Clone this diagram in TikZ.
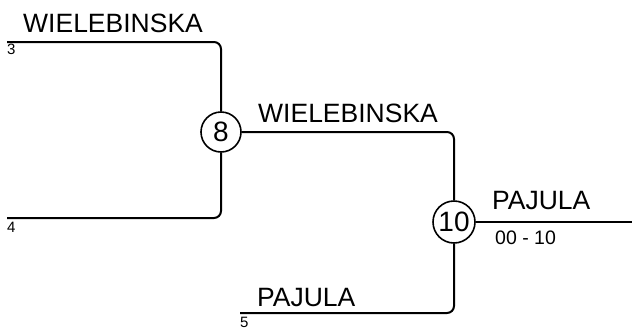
\documentclass[tikz,border=0pt]{standalone}
\usepackage{fontspec}
\setmainfont{Liberation Sans}
\usepackage{tikz}

\begin{document}
\begin{tikzpicture}[
  x=1pt, y=-1pt,
  line/.style={line width=2pt,rounded corners=7pt},
  game/.style={draw,circle,line width=1.6pt,inner sep=0pt,minimum size=40pt,
    font=\fontsize{28}{30}\selectfont},
  team/.style={inner sep=0pt,anchor=base west,font=\fontsize{26.5}{28}\selectfont},
  seed/.style={inner sep=0pt,anchor=north west,font=\fontsize{15}{16}\selectfont},
  score/.style={inner sep=0pt,anchor=north west,font=\fontsize{19.5}{21}\selectfont}]
  \useasboundingbox (0,0) rectangle (632,327);

  % Position the games and the free line ends
  \node[game] (m8) at (221,132) {8};
  \node[game,minimum size=42pt] (m10) at (454,222) {10};
  \coordinate (s3) at (7,42);
  \coordinate (s4) at (7,218);
  \coordinate (s5) at (240,313);
  \coordinate (win) at (633,222);

  % Names, seeds and the score
  \node[team] (t3) at (23,32) {WIELEBINSKA};
  \node[team] (t8) at (258,122) {WIELEBINSKA};
  \node[team] (t5) at (257,306) {PAJULA};
  \node[team] (t10) at (492,209) {PAJULA};
  \node[seed] (n3) at (7,44) {3};
  \node[seed] (n4) at (7,222) {4};
  \node[seed] (n5) at (240,317) {5};
  \node[score] (res) at (495,231) {00 - 10};

  % Draw the bracket lines between them
  \draw[line] (s3) -| (m8);
  \draw[line] (s4) -| (m8);
  \draw[line] (m8) -| (m10);
  \draw[line] (s5) -| (m10);
  \draw[line] (m10) -- (win);
\end{tikzpicture}
\end{document}
